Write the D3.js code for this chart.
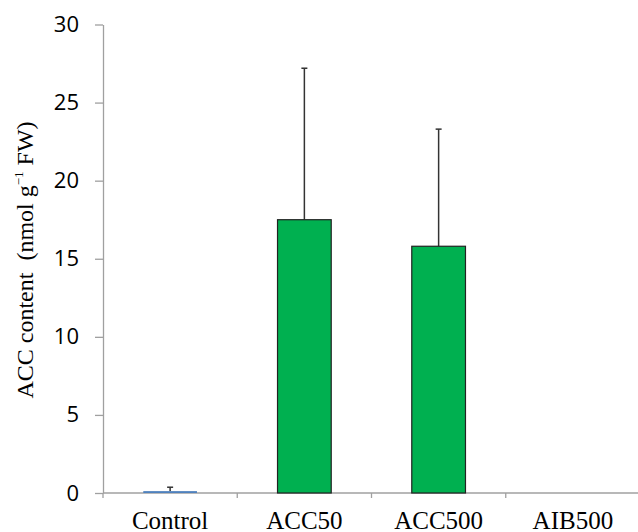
<!DOCTYPE html>
<html>
<head>
<meta charset="utf-8">
<script src="https://cdn.jsdelivr.net/npm/d3@7"></script>
<style>
  body { margin: 0; background: #fff; }
  svg { display: block; }
</style>
</head>
<body>
<div id="chart"></div>
<script>
// data
const categories = ['Control', 'ACC50', 'ACC500', 'AIB500'];
const values = [0.12, 17.5, 15.8, 0];
const errors = [0.25, 9.7, 7.5, 0];
const yTicks = [0, 5, 10, 15, 20, 25, 30];

const WIDTH = 638;
const HEIGHT = 532;
const AXIS_GREY = '#a0a0a0';

const svg = d3.select('#chart')
  .append('svg')
  .attr('width', WIDTH)
  .attr('height', HEIGHT);

const y = d3.scaleLinear().domain([0, 30]).range([493, 24.5]);

const x = d3.scaleBand()
  .domain(categories)
  .range([103, 640])
  .paddingInner(0.6)
  .paddingOuter(0.3);

const barColor = (d, i) => i === 0 ? '#4f81bd' : '#00b050';

// Y axis
const yAxis = svg.append('g')
  .attr('transform', 'translate(103,0)')
  .call(d3.axisLeft(y).tickValues(yTicks).tickSize(8).tickSizeOuter(0).tickPadding(16));

yAxis.select('.domain').attr('stroke', AXIS_GREY).attr('stroke-width', 1.3);
yAxis.selectAll('.tick line').attr('stroke', AXIS_GREY).attr('stroke-width', 1.3);
yAxis.selectAll('.tick text')
  .attr('fill', '#000')
  .style('font-family', '"Open Sans", sans-serif')
  .style('font-size', '22px');

// X axis line + category boundary ticks
const step = x.step();
const bounds = categories.map(c => x(c) - (step - x.bandwidth()) / 2);
bounds.push(bounds[bounds.length - 1] + step);

svg.append('line')
  .attr('x1', 103).attr('x2', WIDTH)
  .attr('y1', y(0)).attr('y2', y(0))
  .attr('stroke', AXIS_GREY)
  .attr('stroke-width', 1.3);

svg.selectAll('.xtick')
  .data(bounds)
  .join('line')
  .attr('class', 'xtick')
  .attr('x1', d => d).attr('x2', d => d)
  .attr('y1', y(0)).attr('y2', y(0) + 5)
  .attr('stroke', AXIS_GREY)
  .attr('stroke-width', 1.3);

// X labels, sitting right at the bottom edge like the reference
svg.selectAll('.xlabel')
  .data(categories)
  .join('text')
  .attr('class', 'xlabel')
  .attr('x', d => x(d) + x.bandwidth() / 2)
  .attr('y', 529)
  .attr('text-anchor', 'middle')
  .style('font-family', '"Liberation Serif", "Times New Roman", serif')
  .style('font-size', '25px')
  .text(d => d);

// Error bars (upper only)
const errs = categories.map((c, i) => ({ c, v: values[i], e: errors[i] })).filter(d => d.e > 0);

svg.selectAll('.err')
  .data(errs)
  .join('line')
  .attr('class', 'err')
  .attr('x1', d => x(d.c) + x.bandwidth() / 2)
  .attr('x2', d => x(d.c) + x.bandwidth() / 2)
  .attr('y1', d => y(d.v))
  .attr('y2', d => y(d.v + d.e))
  .attr('stroke', '#333')
  .attr('stroke-width', 1.5);

svg.selectAll('.cap')
  .data(errs)
  .join('line')
  .attr('class', 'cap')
  .attr('x1', d => x(d.c) + x.bandwidth() / 2 - 3)
  .attr('x2', d => x(d.c) + x.bandwidth() / 2 + 3)
  .attr('y1', d => y(d.v + d.e))
  .attr('y2', d => y(d.v + d.e))
  .attr('stroke', '#333')
  .attr('stroke-width', 1.5);

// Bars
svg.selectAll('.bar')
  .data(values)
  .join('rect')
  .attr('class', 'bar')
  .attr('x', (d, i) => x(categories[i]))
  .attr('width', x.bandwidth())
  .attr('y', d => y(d))
  .attr('height', d => y(0) - y(d))
  .attr('fill', barColor)
  .attr('stroke', (d, i) => i === 0 ? 'none' : '#222')
  .attr('stroke-width', 1.2)
  .style('display', d => d > 0 ? null : 'none');

// Y label
const yLabel = svg.append('text')
  .attr('transform', 'translate(33,260) rotate(-90)')
  .attr('text-anchor', 'middle')
  .style('font-family', '"Liberation Serif", "Times New Roman", serif')
  .style('font-size', '24px')
  .attr('xml:space', 'preserve');

yLabel.append('tspan').text('ACC content  (nmol g');
yLabel.append('tspan').attr('dy', -10).style('font-size', '13px').text('\u22121');
yLabel.append('tspan').attr('dy', 10).text(' FW)');
</script>
</body>
</html>
